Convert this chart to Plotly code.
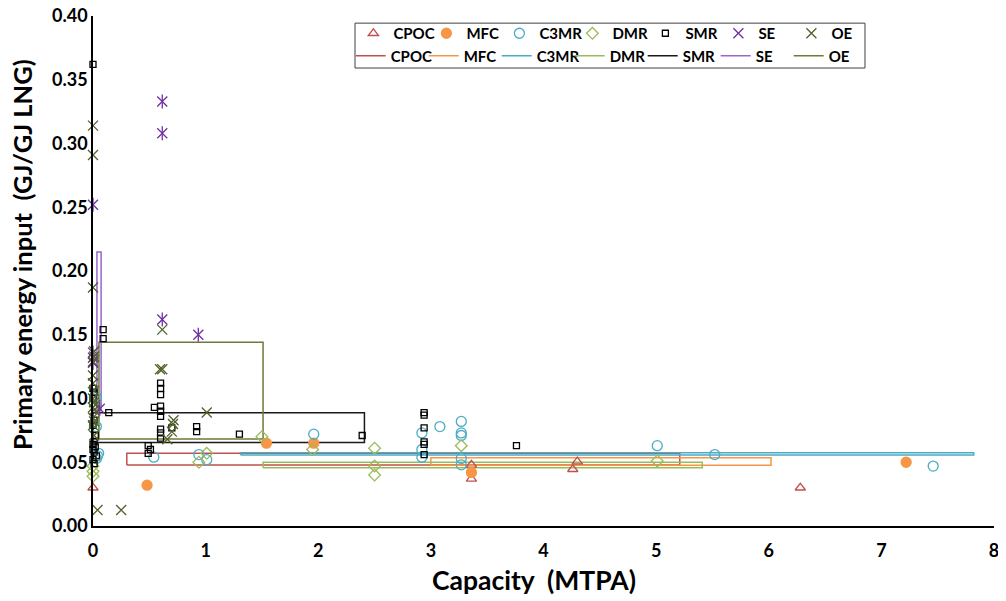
import plotly.graph_objects as go

# ---------------- data ----------------
categories = ["CPOC", "MFC", "C3MR", "DMR", "SMR", "SE", "OE"]

CPOC_x = [0.00, 3.36, 3.36, 4.30, 4.26, 6.28]
CPOC_y = [0.030, 0.048, 0.037, 0.0505, 0.0445, 0.030]

MFC_x = [0.48, 1.54, 1.96, 3.36, 7.22]
MFC_y = [0.032, 0.065, 0.065, 0.042, 0.050]

C3MR_x = [0.03, 0.03, 0.04, 0.03, 0.05, 0.54, 0.94, 1.01, 1.96, 2.92, 3.08,
          3.27, 3.27, 3.27, 2.92, 2.92, 3.27, 3.27, 5.01, 5.52, 7.46]
C3MR_y = [0.101, 0.078, 0.055, 0.053, 0.057, 0.054, 0.056, 0.052, 0.072, 0.073, 0.078,
          0.082, 0.073, 0.071, 0.060, 0.054, 0.053, 0.048, 0.063, 0.056, 0.047]

DMR_x = [0.00, 0.00, 0.00, 0.94, 1.01, 1.50, 1.95, 2.50, 2.50, 2.50, 3.27, 5.01]
DMR_y = [0.047, 0.043, 0.039, 0.050, 0.057, 0.070, 0.060, 0.061, 0.047, 0.040, 0.063, 0.051]

SMR_x = [0.00, 0.00, 0.01, 0.00, 0.01, 0.00, 0.02, 0.01, 0.00, 0.02, 0.00, 0.01, 0.03, 0.00, 0.01,
         0.09, 0.09, 0.14, 0.545, 0.60, 0.60, 0.60, 0.60, 0.60, 0.60, 0.60, 0.60, 0.60,
         0.49, 0.51, 0.49, 0.70, 0.92, 0.92, 1.30, 2.39, 2.94, 2.94, 2.94, 2.94, 2.94, 2.94, 3.76]
SMR_y = [0.362, 0.108, 0.105, 0.100, 0.083, 0.079, 0.071, 0.066, 0.064, 0.062, 0.060, 0.058, 0.055, 0.052, 0.049,
         0.154, 0.147, 0.089, 0.093, 0.112, 0.108, 0.103, 0.094, 0.090, 0.086, 0.076, 0.073, 0.069,
         0.063, 0.060, 0.057, 0.077, 0.078, 0.074, 0.072, 0.071, 0.089, 0.087, 0.077, 0.066, 0.064, 0.056, 0.063]

SE_x = [0.00, 0.00, 0.00, 0.00, 0.06, 0.615, 0.615, 0.615, 0.935]
SE_y = [0.252, 0.136, 0.132, 0.128, 0.092, 0.333, 0.308, 0.162, 0.150]

OE_x = [0.00, 0.00, 0.00, 0.01, 0.01, 0.00, 0.00, 0.00, 0.01, 0.00, 0.01, 0.02, 0.00, 0.01,
        0.00, 0.01, 0.00, 0.01, 0.04, 0.25, 0.615, 0.595, 0.615, 0.715, 0.71, 0.70, 0.66, 1.01]
OE_y = [0.314, 0.291, 0.187, 0.137, 0.133, 0.129, 0.118, 0.112, 0.106, 0.100, 0.097, 0.095, 0.093, 0.091,
        0.085, 0.082, 0.079, 0.071, 0.0125, 0.0125, 0.154, 0.123, 0.123, 0.083, 0.080, 0.074, 0.068, 0.089]

# range boxes per category: [x_min, x_max, y_min, y_max]
box_xmin = [0.30, 3.00, 1.31, 1.51, 0.00, 0.035, 0.053]
box_xmax = [5.21, 6.02, 7.82, 5.41, 2.41, 0.072, 1.51]
box_ymin = [0.0478, 0.0476, 0.0556, 0.0457, 0.0654, 0.091, 0.0682]
box_ymax = [0.0570, 0.0536, 0.0575, 0.0500, 0.0889, 0.215, 0.1441]

x_ticks = [0, 1, 2, 3, 4, 5, 6, 7, 8]
y_ticks = [0.00, 0.05, 0.10, 0.15, 0.20, 0.25, 0.30, 0.35, 0.40]

# ---------------- style ----------------
FONT = "Lato"
marker_colors = ["#C0504D", "#F79646", "#4BACC6", "#9BBB59", "#000000", "#7030A0", "#4F6228"]
line_colors = ["#C0504D", "#F79646", "#4BACC6", "#9BBB59", "#1A1A1A", "#9966CC", "#6B7B3A"]
symbols = ["triangle-up-open", "circle", "circle-open", "diamond-open", "square-open",
           "x-thin-open", "x-thin-open"]
sizes = [9, 10, 10, 9, 6, 10, 10]

series_x = [CPOC_x, MFC_x, C3MR_x, DMR_x, SMR_x, SE_x, OE_x]
series_y = [CPOC_y, MFC_y, C3MR_y, DMR_y, SMR_y, SE_y, OE_y]

fig = go.Figure()

# boxes first (drawn beneath markers), legend in second row
for i, name in enumerate(categories):
    x0, x1, y0, y1 = box_xmin[i], box_xmax[i], box_ymin[i], box_ymax[i]
    fig.add_trace(go.Scatter(
        x=[x0, x1, x1, x0, x0], y=[y0, y0, y1, y1, y0], mode="lines", name=name,
        line=dict(color=line_colors[i], width=1.5), legend="legend2", hoverinfo="skip"))

for i, name in enumerate(categories):
    fig.add_trace(go.Scatter(
        x=series_x[i], y=series_y[i], mode="markers", name=name, legend="legend",
        cliponaxis=False,
        marker=dict(symbol=symbols[i], size=sizes[i], color=marker_colors[i],
                    line=dict(color=marker_colors[i], width=1.3))))
    if name == "SE":
        fig.add_trace(go.Scatter(
            x=series_x[i], y=series_y[i], mode="markers", showlegend=False, cliponaxis=False,
            marker=dict(symbol="line-ns-open", size=sizes[i], color=marker_colors[i],
                        line=dict(color=marker_colors[i], width=1.3))))

leg_common = dict(orientation="h", xanchor="left", yanchor="top",
                  font=dict(family=FONT, size=15, color="#000000", weight="bold"),
                  bgcolor="rgba(0,0,0,0)", borderwidth=0,
                  entrywidth=28, entrywidthmode="pixels", itemwidth=30,
                  tracegroupgap=0)

# page body has an 8px margin, so the figure is sized to fit the 1006x601 window
fig.update_layout(
    width=998, height=593,
    margin=dict(l=85, r=12, t=8, b=75, autoexpand=False),
    paper_bgcolor="white", plot_bgcolor="white",
    font=dict(family=FONT, size=17, color="#000000", weight="bold"),
    showlegend=True,
    legend=dict(x=0.289, y=0.998, **leg_common),
    legend2=dict(x=0.286, y=0.954, **leg_common),
    xaxis=dict(range=[0, 8], tickvals=x_ticks, ticktext=[str(v) for v in x_ticks],
               showgrid=False, zeroline=False, showline=True, linecolor="#000000", linewidth=1.5,
               ticks="", automargin=False, ticklabelstandoff=8, ticklabeloverflow="allow",
               tickfont=dict(family=FONT, size=18, weight="bold")),
    yaxis=dict(range=[0, 0.40], tickvals=y_ticks, ticktext=[f"{v:.2f}" for v in y_ticks],
               showgrid=False, zeroline=False, showline=True, linecolor="#000000", linewidth=1.5,
               ticks="", automargin=False, ticklabeloverflow="allow",
               tickfont=dict(family=FONT, size=18, weight="bold")),
    annotations=[
        dict(text="Capacity  (MTPA)", xref="paper", yref="paper", x=(534 - 93) / 901,
             y=-(580 - 526) / 510, xanchor="center", yanchor="middle", showarrow=False,
             font=dict(family=FONT, size=26.5, weight="bold", color="#000000")),
        dict(text="Primary energy input  (GJ/GJ LNG)", xref="paper", yref="paper",
             x=-(93 - 22) / 901, y=(526 - 255) / 510, xanchor="center", yanchor="middle",
             textangle=-90, showarrow=False,
             font=dict(family=FONT, size=25.5, weight="bold", color="#000000")),
    ],
    shapes=[dict(type="rect", xref="paper", yref="paper", x0=0.2908, x1=0.8568, y0=0.898, y1=0.986,
                 line=dict(color="#404040", width=1), fillcolor="rgba(0,0,0,0)")],
)

fig.write_html("out.html")
